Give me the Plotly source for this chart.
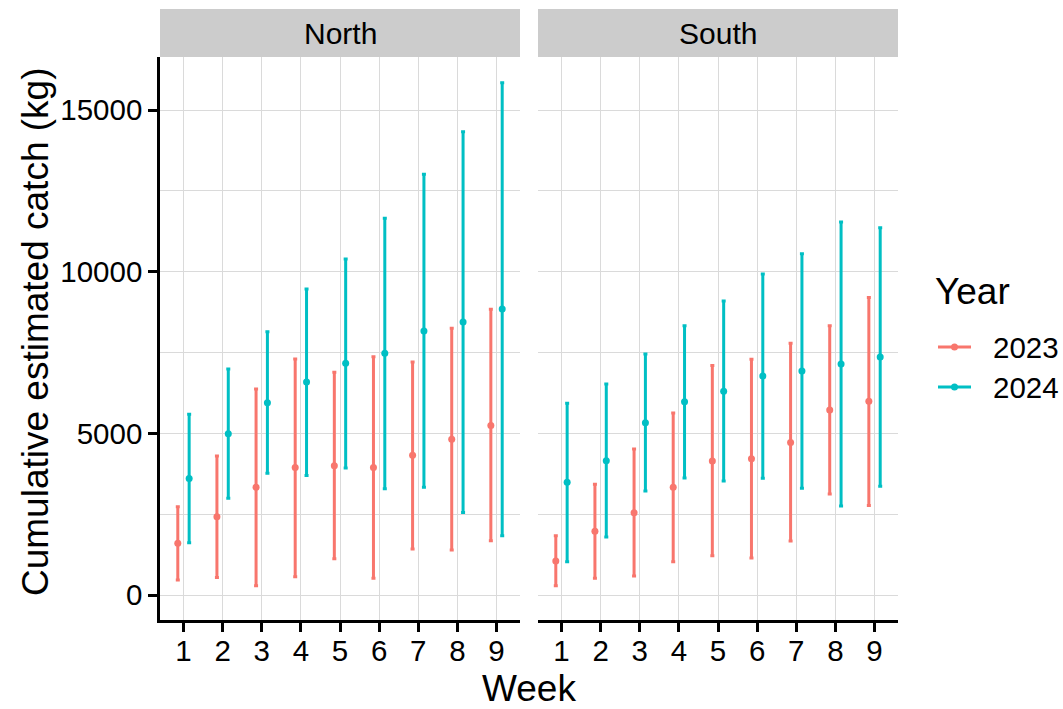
import plotly.graph_objects as go

weeks = [1, 2, 3, 4, 5, 6, 7, 8, 9]
week_labels = ["1", "2", "3", "4", "5", "6", "7", "8", "9"]
y_ticks = [0, 5000, 10000, 15000]
y_tick_labels = ["0", "5000", "10000", "15000"]
years = ["2023", "2024"]
regions = ["North", "South"]

north_2023_est = [1600, 2420, 3330, 3940, 4000, 3940, 4320, 4815, 5240]
north_2023_lo = [465, 545, 290, 565, 1125, 515, 1425, 1390, 1680]
north_2023_hi = [2730, 4300, 6370, 7300, 6890, 7370, 7210, 8250, 8835]
north_2024_est = [3600, 4990, 5950, 6590, 7165, 7475, 8165, 8445, 8845]
north_2024_lo = [1620, 2990, 3765, 3700, 3930, 3290, 3330, 2555, 1835]
north_2024_hi = [5590, 6990, 8145, 9465, 10390, 11650, 13010, 14330, 15845]

south_2023_est = [1050, 1970, 2545, 3330, 4145, 4215, 4720, 5720, 5990]
south_2023_lo = [290, 515, 590, 1030, 1215, 1145, 1670, 3125, 2765]
south_2023_hi = [1835, 3425, 4515, 5630, 7095, 7290, 7785, 8330, 9205]
south_2024_est = [3485, 4155, 5330, 5980, 6300, 6775, 6930, 7145, 7360]
south_2024_lo = [1030, 1795, 3215, 3620, 3525, 3610, 3300, 2755, 3360]
south_2024_hi = [5930, 6525, 7455, 8330, 9095, 9930, 10555, 11535, 11360]

colors = {"2023": "#F8766D", "2024": "#00BFC4"}
dodge = {"2023": -0.145, "2024": 0.145}

series = {
    ("North", "2023"): (north_2023_est, north_2023_lo, north_2023_hi),
    ("North", "2024"): (north_2024_est, north_2024_lo, north_2024_hi),
    ("South", "2023"): (south_2023_est, south_2023_lo, south_2023_hi),
    ("South", "2024"): (south_2024_est, south_2024_lo, south_2024_hi),
}

FONT = "Liberation Sans, Arial, sans-serif"
TICK_FS = 29.5
TITLE_FS = 37
W, H = 1063, 709
ML, MR, MT, MB = 160, 165, 9, 89
PW = W - ML - MR
PH = H - MT - MB
panel_top = (620 - 57) / PH


def px_x(px):
    return (px - ML) / PW


def px_y(py):
    return (H - MB - py) / PH


fig = go.Figure()

axes = {"North": ("x", "y"), "South": ("x2", "y2")}
for reg in regions:
    xa, ya = axes[reg]
    for yr in years:
        est, lo, hi = series[(reg, yr)]
        fig.add_trace(go.Scatter(
            x=[w + dodge[yr] for w in weeks],
            y=est,
            mode="markers",
            marker=dict(color=colors[yr], size=7),
            error_y=dict(type="data", symmetric=False,
                         array=[h - e for h, e in zip(hi, est)],
                         arrayminus=[e - l for e, l in zip(est, lo)],
                         color=colors[yr], thickness=3, width=2),
            xaxis=xa, yaxis=ya, showlegend=False, name=yr,
            hoverinfo="skip",
        ))

grid = "#DADADA"
xcommon = dict(range=[0.4, 9.6], tickvals=weeks, ticktext=week_labels,
               showgrid=True, gridcolor=grid, gridwidth=1.3,
               showline=True, linecolor="black", linewidth=2.5,
               ticks="outside", ticklen=9, tickwidth=2.5, tickcolor="black",
               ticklabelstandoff=-6,
               tickfont=dict(size=TICK_FS, color="black", family=FONT),
               zeroline=False, fixedrange=True)
yrange = [-773, 16640]

fig.update_layout(
    width=W, height=H,
    margin=dict(l=ML, r=MR, t=MT, b=MB),
    paper_bgcolor="white", plot_bgcolor="white",
    font=dict(family=FONT, color="black"),
    xaxis=dict(domain=[0, 360 / PW], anchor="y", **xcommon),
    xaxis2=dict(domain=[378 / PW, 1], anchor="y2", **xcommon),
    yaxis=dict(domain=[0, panel_top], anchor="x", range=yrange,
               tickvals=y_ticks, ticktext=y_tick_labels,
               showgrid=True, gridcolor=grid, gridwidth=1.3,
               minor=dict(dtick=2500, tick0=0, showgrid=True, gridcolor=grid, gridwidth=1.3),
               showline=True, linecolor="black", linewidth=2.5,
               ticks="outside", ticklen=9, tickwidth=2.5, tickcolor="black",
               tickfont=dict(size=TICK_FS, color="black", family=FONT),
               zeroline=False, fixedrange=True),
    yaxis2=dict(domain=[0, panel_top], anchor="x2", range=yrange,
                matches="y", tickvals=y_ticks,
                showticklabels=False, ticks="",
                showgrid=True, gridcolor=grid, gridwidth=1.3,
                minor=dict(dtick=2500, tick0=0, showgrid=True, gridcolor=grid, gridwidth=1.3),
                showline=False, zeroline=False, fixedrange=True),
    showlegend=False,
)

shapes = []
annotations = []
for reg, xa in [("North", "x"), ("South", "x2")]:
    shapes.append(dict(type="rect", xref=f"{xa} domain", yref="paper",
                       x0=0, x1=1, y0=panel_top, y1=1,
                       fillcolor="#CCCCCC", line=dict(width=0), layer="below"))
    annotations.append(dict(text=reg, xref=f"{xa} domain", yref="paper",
                            x=0.5, y=(panel_top + 1) / 2, showarrow=False,
                            xanchor="center", yanchor="middle",
                            font=dict(size=30, family=FONT, color="black")))

# axis titles
annotations.append(dict(text="Week", xref="paper", yref="paper",
                        x=0.5, y=px_y(688), showarrow=False,
                        xanchor="center", yanchor="middle", borderpad=0,
                        font=dict(size=TITLE_FS, family=FONT, color="black")))
annotations.append(dict(text="Cumulative estimated catch (kg)", xref="paper", yref="paper",
                        x=px_x(35), y=px_y(332), showarrow=False,
                        xanchor="center", yanchor="middle", textangle=-90,
                        font=dict(size=TITLE_FS, family=FONT, color="black")))

# legend (drawn by hand to match key geometry)
annotations.append(dict(text="Year", xref="paper", yref="paper",
                        x=px_x(933), y=px_y(291), showarrow=False,
                        xanchor="left", yanchor="middle",
                        font=dict(size=TITLE_FS, family=FONT, color="black")))
for yr, ky in zip(years, [347, 387]):
    shapes.append(dict(type="line", xref="paper", yref="paper",
                       x0=px_x(938), x1=px_x(971), y0=px_y(ky), y1=px_y(ky),
                       line=dict(color=colors[yr], width=3)))
    shapes.append(dict(type="circle", xref="paper", yref="paper",
                       x0=px_x(951), x1=px_x(958), y0=px_y(ky + 3.5), y1=px_y(ky - 3.5),
                       fillcolor=colors[yr], line=dict(width=0)))
    annotations.append(dict(text=yr, xref="paper", yref="paper",
                            x=px_x(991), y=px_y(ky), showarrow=False,
                            xanchor="left", yanchor="middle",
                            font=dict(size=TICK_FS, family=FONT, color="black")))

fig.update_layout(shapes=shapes, annotations=annotations)

fig.write_html("out.html", config={"displayModeBar": False},
               post_script="document.body.style.margin='0';document.body.style.padding='0';")
